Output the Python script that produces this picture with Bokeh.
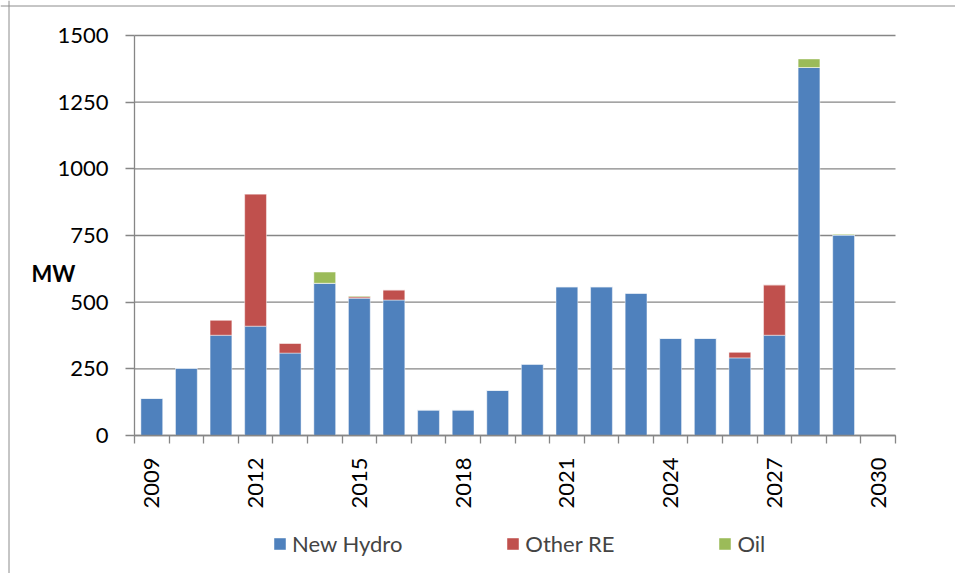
import math
from bokeh.plotting import figure
from bokeh.models import (ColumnDataSource, FixedTicker, Legend, LegendItem, Label,
                          Range1d, LinearAxis, Span)
from bokeh.embed import file_html
from bokeh.resources import INLINE

years = list(range(2009, 2031))
new_hydro = [140, 253, 376, 410, 309, 571, 515, 508, 96, 96, 170, 268,
             558, 558, 534, 365, 365, 291, 376, 1380, 752, 0]
other_re = [0, 0, 57, 496, 37, 0, 5, 38, 0, 0, 0, 0,
            0, 0, 0, 0, 0, 22, 189, 0, 0, 0]
oil = [0, 0, 0, 0, 0, 42, 3, 0, 0, 0, 0, 0,
       0, 0, 0, 0, 0, 0, 0, 32, 3, 0]
series = ["New Hydro", "Other RE", "Oil"]
colors = ["#4F81BD", "#C0504D", "#9BBB59"]
y_ticks = [0, 250, 500, 750, 1000, 1250, 1500]
x_label_years = [2009, 2012, 2015, 2018, 2021, 2024, 2027, 2030]

FONT = "Lato"
FS = "22px"
GRAY = "#868686"

# ---- layout (canvas pixels) ----
W, H = 955, 573
X0, X1, Y0, Y1 = 134, 895, 435, 35       # plot area edges
xa, xb = years[0] - 0.5, years[-1] + 0.5
ya, yb = y_ticks[0], y_ticks[-1]
sx = (X1 - X0) / (xb - xa)
sy = (Y0 - Y1) / (yb - ya)
x_start = xa - X0 / sx
x_end = xb + (W - X1) / sx
y_end = yb + Y1 / sy
y_start = ya - (H - Y0) / sy


def px2x(px):
    return x_start + px / sx


def px2y(py):
    return y_end - py / sy


src = ColumnDataSource(dict(year=years, new_hydro=new_hydro, other_re=other_re, oil=oil))

p = figure(width=W, height=H, x_range=Range1d(x_start, x_end), y_range=Range1d(y_start, y_end),
           x_axis_type=None, y_axis_type=None, title=None,
           output_backend="svg", toolbar_location=None, min_border=0)
p.outline_line_color = None

# horizontal gridlines across the plot area
p.segment(x0=xa, x1=xb, y0=y_ticks, y1=y_ticks, line_color=GRAY, line_width=1.3)

rs = p.vbar_stack(["new_hydro", "other_re", "oil"], x="year", width=0.63, source=src,
                  fill_color=colors, line_color="white", line_alpha=0.45, line_width=1)

bounds = [y - 0.5 for y in years] + [years[-1] + 0.5]
xaxis = LinearAxis(fixed_location=ya, bounds=(xa, xb),
                   ticker=FixedTicker(ticks=x_label_years, minor_ticks=bounds))
xaxis.major_tick_out = 0
xaxis.major_tick_in = 0
xaxis.minor_tick_out = 8
xaxis.minor_tick_in = 0
xaxis.minor_tick_line_color = GRAY
xaxis.minor_tick_line_width = 1.3
xaxis.axis_line_color = GRAY
xaxis.axis_line_width = 1.3
xaxis.major_label_orientation = math.pi / 2
xaxis.major_label_standoff = 14
xaxis.major_label_text_font = FONT
xaxis.major_label_text_font_size = FS
xaxis.major_label_text_color = "black"
p.add_layout(xaxis, "below")

yaxis = LinearAxis(fixed_location=xa, bounds=(ya, yb), ticker=FixedTicker(ticks=y_ticks))
yaxis.major_tick_out = 9
yaxis.major_tick_in = 0
yaxis.minor_tick_out = 0
yaxis.minor_tick_in = 0
yaxis.major_tick_line_color = GRAY
yaxis.major_tick_line_width = 1.3
yaxis.axis_line_color = GRAY
yaxis.axis_line_width = 1.3
yaxis.major_label_standoff = 17
yaxis.major_label_text_font = FONT
yaxis.major_label_text_font_size = FS
yaxis.major_label_text_color = "black"
p.add_layout(yaxis, "left")

p.add_layout(Label(x=px2x(31), y=px2y(273), text="MW",
                   text_font=FONT, text_font_style="bold", text_font_size=FS,
                   text_align="left", text_baseline="middle", text_color="black"))

# chart-area border (left and top edges)
p.add_layout(Span(location=px2x(8.5), dimension="height", line_color="#8c8c8c", line_width=1))
p.add_layout(Span(location=px2y(5.5), dimension="width", line_color="#8c8c8c", line_width=1))

items = [LegendItem(label=s, renderers=[r]) for s, r in zip(series, rs)]
legend = Legend(items=items, orientation="horizontal", location=(272, H - 557),
                spacing=103, glyph_width=15, glyph_height=15, label_standoff=5,
                label_text_font=FONT, label_text_font_size=FS,
                border_line_color=None, background_fill_alpha=0,
                padding=0, margin=0)
p.add_layout(legend, "center")

open("out.html", "w").write(file_html(p, INLINE))
